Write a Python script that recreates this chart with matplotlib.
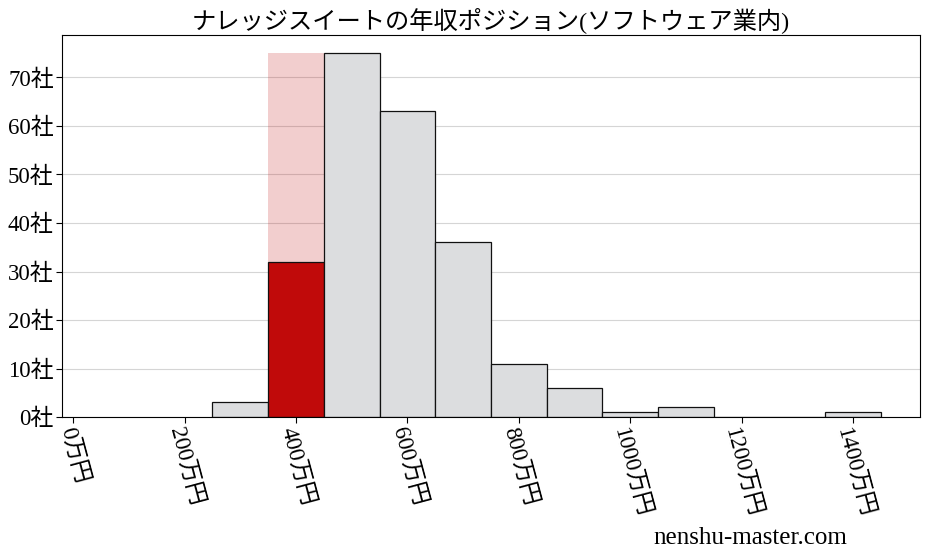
import numpy as np
import matplotlib
matplotlib.use("Agg")
from matplotlib import pyplot as plt

plt.rcParams['font.family'] = ['Liberation Serif', 'Noto Sans CJK JP', 'DejaVu Sans']

title = "ナレッジスイートの年収ポジション(ソフトウェア業内)"
bin_edges = [250, 350, 450, 550, 650, 750, 850, 950, 1050, 1150, 1250, 1350, 1450]
counts = [3, 32, 75, 63, 36, 11, 6, 1, 2, 0, 0, 1]
highlight_bin = 1  # 350-450万円 (ナレッジスイート)
x_ticks = [0, 200, 400, 600, 800, 1000, 1200, 1400]
y_ticks = [0, 10, 20, 30, 40, 50, 60, 70]

fig = plt.figure(figsize=(9.27, 5.57), dpi=100)
ax = fig.add_axes([0.0669, 0.2513, 0.9256, 0.6858])

lefts = np.array(bin_edges[:-1])
widths = np.diff(bin_edges)
colors = ['#dcdddf'] * len(counts)
colors[highlight_bin] = '#c00a0a'

# pale band behind the highlighted bin, up to the tallest bar
ax.bar(lefts[highlight_bin], max(counts), width=widths[highlight_bin], align='edge',
       color='#c00a0a', alpha=0.2, linewidth=0, zorder=1)
ax.bar(lefts, counts, width=widths, align='edge', color=colors,
       edgecolor='#111111', linewidth=0.9, zorder=2)

ax.set_xlim(-20, 1520)
ax.set_ylim(0, max(counts) * 1.05)
ax.set_xticks(x_ticks)
ax.set_xticklabels([f"{v}万円" for v in x_ticks], rotation=-75, fontsize=16.5)
ax.set_yticks(y_ticks)
ax.set_yticklabels([f"{v}社" for v in y_ticks], fontsize=16.5)
ax.yaxis.grid(True, color='#d5d5d5', linewidth=0.8, zorder=0)
ax.set_axisbelow(True)
ax.tick_params(axis='both', length=4, pad=2)
ax.set_title(title, fontsize=17.5, pad=5)

fig.text(0.809, 0.035, "nenshu-master.com", ha='center', va='center', fontsize=18)

fig.savefig("out.png", dpi=100)
